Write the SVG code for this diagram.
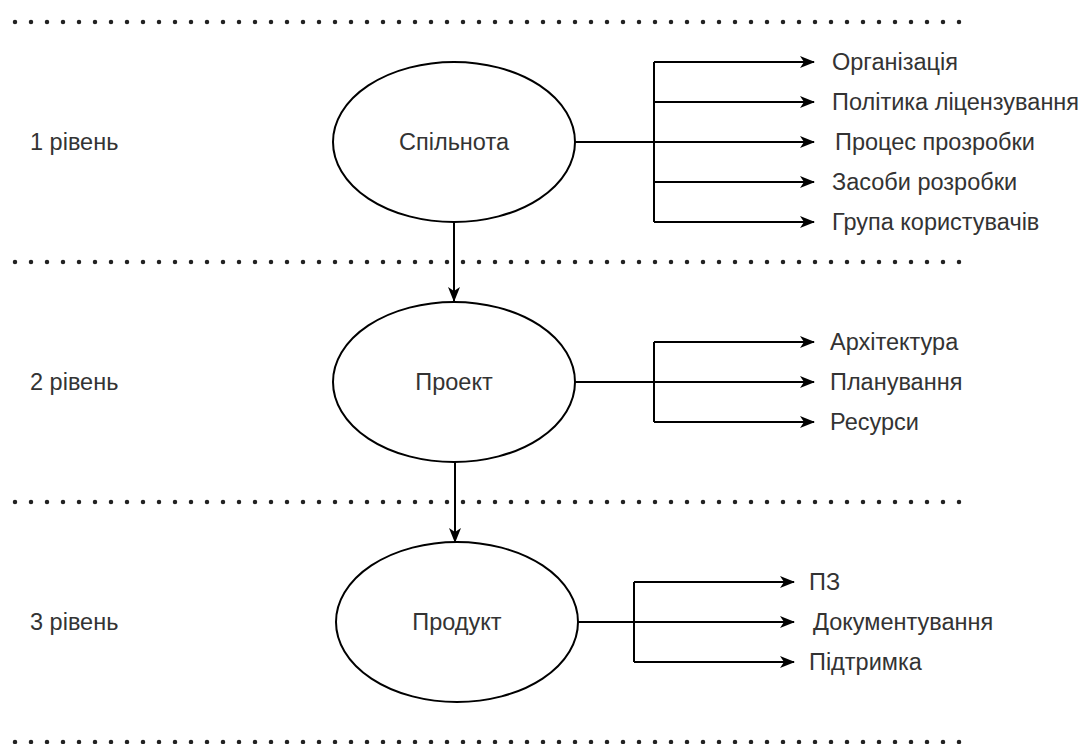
<svg xmlns="http://www.w3.org/2000/svg" width="1083" height="744" viewBox="0 0 1083 744">
  <style>
    .sep { stroke: #222; stroke-width: 4.5; stroke-linecap: round; stroke-dasharray: 0 16; fill: none; }
    .node { fill: #fff; stroke: #000; stroke-width: 2; }
    .edge { stroke: #000; stroke-width: 2; fill: none; }
    .label { font-family: "Liberation Sans", Arial, sans-serif; font-size: 23.5px; fill: #333; dominant-baseline: central; }
    .mid { text-anchor: middle; }
  </style>
  <defs>
    <marker id="arrow" viewBox="0 0 15 12" refX="14" refY="6" markerWidth="15" markerHeight="12" markerUnits="userSpaceOnUse" orient="auto">
      <path d="M0,0 L15,6 L0,12 L4,6 Z" fill="#000"/>
    </marker>
  </defs>
  <rect width="1083" height="744" fill="#fff"/>

  <!-- level separators -->
  <g id="separators">
    <line class="sep" x1="15" y1="22" x2="960" y2="22"/>
    <line class="sep" x1="15" y1="262" x2="960" y2="262"/>
    <line class="sep" x1="15" y1="502" x2="960" y2="502"/>
    <line class="sep" x1="15" y1="742" x2="960" y2="742"/>
  </g>

  <!-- level captions -->
  <g id="levels">
    <text class="label" x="30" y="142">1 рівень</text>
    <text class="label" x="30" y="382">2 рівень</text>
    <text class="label" x="30" y="622">3 рівень</text>
  </g>

  <!-- connectors -->
  <g id="connectors">
    <line class="edge" x1="454" y1="222" x2="454" y2="301" marker-end="url(#arrow)"/>
    <line class="edge" x1="455" y1="462" x2="455" y2="542" stroke="#555" marker-end="url(#arrow)"/>

    <!-- level 1 branches -->
    <path class="edge" d="M575,142 H654"/>
    <path class="edge" d="M654,62 V222"/>
    <line class="edge" x1="654" y1="62" x2="814" y2="62" marker-end="url(#arrow)"/>
    <line class="edge" x1="654" y1="102" x2="814" y2="102" marker-end="url(#arrow)"/>
    <line class="edge" x1="654" y1="142" x2="814" y2="142" marker-end="url(#arrow)"/>
    <line class="edge" x1="654" y1="182" x2="814" y2="182" marker-end="url(#arrow)"/>
    <line class="edge" x1="654" y1="222" x2="814" y2="222" marker-end="url(#arrow)"/>

    <!-- level 2 branches -->
    <path class="edge" d="M575,382 H654"/>
    <path class="edge" d="M654,342 V422"/>
    <line class="edge" x1="654" y1="342" x2="814" y2="342" marker-end="url(#arrow)"/>
    <line class="edge" x1="654" y1="382" x2="814" y2="382" marker-end="url(#arrow)"/>
    <line class="edge" x1="654" y1="422" x2="814" y2="422" marker-end="url(#arrow)"/>

    <!-- level 3 branches -->
    <path class="edge" d="M578,622 H634"/>
    <path class="edge" d="M634,582 V662"/>
    <line class="edge" x1="634" y1="582" x2="794" y2="582" marker-end="url(#arrow)"/>
    <line class="edge" x1="578" y1="622" x2="794" y2="622" marker-end="url(#arrow)"/>
    <line class="edge" x1="634" y1="662" x2="794" y2="662" marker-end="url(#arrow)"/>
  </g>

  <!-- nodes -->
  <g id="community">
    <ellipse class="node" cx="454" cy="142" rx="121" ry="80"/>
    <text class="label mid" x="454" y="142">Спільнота</text>
  </g>
  <g id="project">
    <ellipse class="node" cx="454" cy="382" rx="121" ry="80"/>
    <text class="label mid" x="454" y="382">Проект</text>
  </g>
  <g id="product">
    <ellipse class="node" cx="457" cy="622" rx="121" ry="80"/>
    <text class="label mid" x="457" y="622">Продукт</text>
  </g>

  <g id="community-items">
    <text class="label" x="832" y="62">Організація</text>
    <text class="label" x="832" y="102">Політика ліцензування</text>
    <text class="label" x="835" y="142">Процес прозробки</text>
    <text class="label" x="832" y="182">Засоби розробки</text>
    <text class="label" x="832" y="222">Група користувачів</text>
  </g>
  <g id="project-items">
    <text class="label" x="830" y="342">Архітектура</text>
    <text class="label" x="830" y="382">Планування</text>
    <text class="label" x="830" y="422">Ресурси</text>
  </g>
  <g id="product-items">
    <text class="label" x="809" y="582">ПЗ</text>
    <text class="label" x="813" y="622">Документування</text>
    <text class="label" x="809" y="662">Підтримка</text>
  </g>
</svg>
